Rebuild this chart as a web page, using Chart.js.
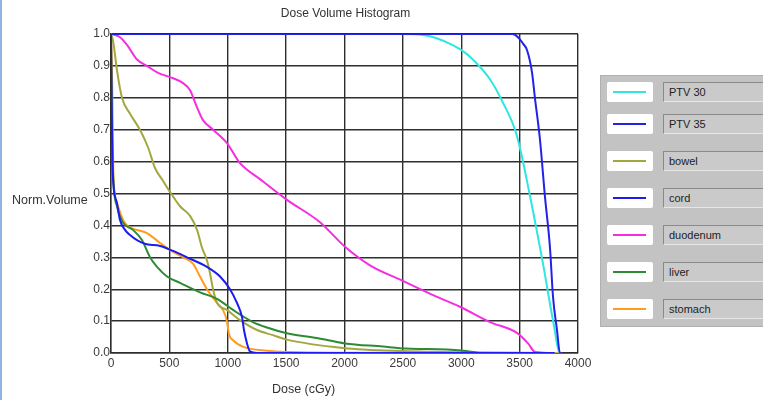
<!DOCTYPE html>
<html>
<head>
<meta charset="utf-8">
<script src="https://cdn.jsdelivr.net/npm/chart.js@4/dist/chart.umd.min.js"></script>
<style>
  html, body { margin: 0; padding: 0; background: #ffffff; }
  body { width: 763px; height: 400px; overflow: hidden; position: relative; font-family: "Liberation Sans", Arial, sans-serif; }
  #edge { position: absolute; left: 0; top: 0; width: 2px; height: 400px; background: #8fb4e0; }
  #wrap { position: absolute; left: 0; top: 0; width: 763px; height: 400px; }
  #legend { position: absolute; left: 600px; top: 75px; width: 170px; height: 252px; background: #c3c3c3; border: 1px solid #b0b0b0; box-sizing: border-box; }
  .row { position: absolute; left: 0; width: 170px; height: 20px; }
  .sw { position: absolute; left: 6px; top: 0; width: 46px; height: 20px; background: #ffffff; border-radius: 2px; }
  .sw i { position: absolute; left: 6px; top: 9px; width: 33px; height: 2px; display: block; }
  .tb { position: absolute; left: 62px; top: 0; width: 110px; height: 20px; box-sizing: border-box; background: #cacaca; border-top: 1px solid #8a8a8a; border-left: 1px solid #8a8a8a; border-bottom: 1px solid #e6e6e6; font-size: 11px; line-height: 18px; padding-left: 5px; color: #222; }
</style>
</head>
<body>
<div id="edge"></div>
<div id="wrap"><canvas id="c" width="763" height="400"></canvas></div>
<div id="legend"></div>
<script>
// ---- data (dose in cGy, normalized volume) ----
const chartTitle = "Dose Volume Histogram";
const xTitle = "Dose (cGy)";
const yTitle = "Norm.Volume";
const xTicks = [0, 500, 1000, 1500, 2000, 2500, 3000, 3500, 4000];
const yTicks = [0.0, 0.1, 0.2, 0.3, 0.4, 0.5, 0.6, 0.7, 0.8, 0.9, 1.0];

const seriesNames = ["PTV 30", "PTV 35", "bowel", "cord", "duodenum", "liver", "stomach"];
const seriesColors = ["#2fe6e0", "#2222e8", "#a3a83e", "#1c1cf0", "#f62ee0", "#2e8b34", "#ff9c1e"];

const ptv30Dose = [0, 1000, 2000, 2500, 2600, 2700, 2800, 2900, 3000, 3100, 3250, 3350, 3475, 3590, 3700, 3790, 3845, 3860];
const ptv30Vol  = [1.0, 1.0, 1.0, 1.0, 0.999, 0.995, 0.985, 0.97, 0.95, 0.92, 0.856, 0.79, 0.683, 0.49, 0.28, 0.094, 0.0, 0.0];

const ptv35Dose = [0, 1000, 2000, 3000, 3440, 3486, 3529, 3563, 3606, 3631, 3674, 3717, 3760, 3786, 3820, 3845, 3860];
const ptv35Vol  = [1.0, 1.0, 1.0, 1.0, 1.0, 0.99, 0.97, 0.95, 0.88, 0.80, 0.67, 0.49, 0.33, 0.176, 0.072, 0.0, 0.0];

const bowelDose = [0, 17, 51, 94, 163, 248, 317, 377, 445, 505, 591, 677, 737, 780, 822, 848, 874, 908, 993, 1105, 1250, 1387, 1507, 1987, 2500, 3000, 3800];
const bowelVol  = [1.0, 0.98, 0.887, 0.80, 0.75, 0.70, 0.645, 0.58, 0.54, 0.505, 0.46, 0.43, 0.386, 0.33, 0.29, 0.25, 0.20, 0.157, 0.135, 0.103, 0.072, 0.056, 0.042, 0.016, 0.006, 0.002, 0.0];

const cordDose = [0, 6, 12, 20, 51, 77, 120, 163, 223, 317, 394, 531, 651, 822, 934, 1019, 1079, 1122, 1139, 1165, 1190, 1250, 3800];
const cordVol  = [1.0, 0.75, 0.6, 0.53, 0.47, 0.417, 0.386, 0.37, 0.354, 0.34, 0.338, 0.32, 0.30, 0.27, 0.24, 0.20, 0.157, 0.113, 0.072, 0.03, 0.005, 0.0, 0.0];

const duodenumDose = [0, 77, 137, 223, 308, 403, 505, 617, 677, 737, 788, 874, 993, 1105, 1276, 1507, 1790, 2004, 2218, 2500, 2792, 2989, 3246, 3477, 3572, 3632, 3750];
const duodenumVol  = [1.0, 0.99, 0.966, 0.92, 0.90, 0.878, 0.865, 0.846, 0.824, 0.77, 0.73, 0.70, 0.658, 0.595, 0.545, 0.48, 0.41, 0.333, 0.275, 0.226, 0.176, 0.145, 0.097, 0.063, 0.03, 0.003, 0.0];

const liverDose = [0, 8, 17, 51, 100, 188, 265, 334, 394, 480, 591, 762, 908, 1045, 1216, 1336, 1507, 1764, 2004, 2330, 2475, 3000, 3150];
const liverVol  = [1.0, 0.75, 0.57, 0.46, 0.41, 0.386, 0.354, 0.30, 0.27, 0.24, 0.22, 0.19, 0.17, 0.135, 0.097, 0.08, 0.062, 0.047, 0.03, 0.02, 0.015, 0.008, 0.0];

const stomachDose = [0, 10, 20, 51, 103, 137, 188, 308, 420, 505, 617, 702, 762, 822, 908, 959, 993, 1010, 1045, 1130, 1336, 1533, 2000, 3850];
const stomachVol  = [1.0, 0.85, 0.56, 0.47, 0.417, 0.40, 0.39, 0.376, 0.345, 0.323, 0.30, 0.28, 0.24, 0.20, 0.157, 0.135, 0.10, 0.06, 0.04, 0.02, 0.007, 0.003, 0.001, 0.0];

const seriesDose = [ptv30Dose, ptv35Dose, bowelDose, cordDose, duodenumDose, liverDose, stomachDose];
const seriesVol  = [ptv30Vol, ptv35Vol, bowelVol, cordVol, duodenumVol, liverVol, stomachVol];
const drawOrder  = [2, 0, 5, 1, 3, 4, 6];

// ---- build datasets ----
const datasets = seriesNames.map((name, i) => ({
  label: name,
  data: seriesDose[i].map((d, k) => ({ x: d, y: seriesVol[i][k] })),
  borderColor: seriesColors[i],
  backgroundColor: seriesColors[i],
  borderWidth: 2,
  pointRadius: 0,
  fill: false,
  cubicInterpolationMode: 'monotone',
  order: drawOrder[i]
}));

const FONT = "'Liberation Sans', Arial, sans-serif";

const textPlugin = {
  id: 'texts',
  afterDraw(chart) {
    const ctx = chart.ctx;
    const a = chart.chartArea;
    ctx.save();
    ctx.fillStyle = '#333';
    ctx.font = '12px ' + FONT;
    ctx.textAlign = 'center';
    ctx.textBaseline = 'middle';
    ctx.fillText(chartTitle, (a.left + a.right) / 2 + 1, 14);
    ctx.font = '12.5px ' + FONT;
    ctx.fillText(xTitle, (a.left + a.right) / 2 - 41, 390);
    ctx.textAlign = 'left';
    ctx.font = '12.5px ' + FONT;
    ctx.fillText(yTitle, 12, 201);
    ctx.restore();
  }
};

new Chart(document.getElementById('c'), {
  type: 'line',
  data: { datasets },
  options: {
    responsive: false,
    animation: false,
    layout: { padding: { left: 0, right: 185, top: 34, bottom: 0 } },
    plugins: { legend: { display: false }, title: { display: false }, tooltip: { enabled: false } },
    scales: {
      x: {
        type: 'linear',
        min: 0, max: 4000,
        afterBuildTicks: s => { s.ticks = xTicks.map(v => ({ value: v })); },
        afterFit: s => { s.height = 47; },
        ticks: { font: { size: 12, family: FONT }, color: '#3a3a3a', padding: 3, maxRotation: 0, callback: v => String(v) },
        grid: { color: '#2e2e2e', lineWidth: 1.4, drawTicks: false },
        border: { color: '#2e2e2e', width: 1.4 }
      },
      y: {
        type: 'linear',
        min: 0, max: 1,
        afterBuildTicks: s => { s.ticks = yTicks.map(v => ({ value: v })); },
        afterFit: s => { s.width = 111; },
        ticks: { font: { size: 12, family: FONT }, color: '#3a3a3a', padding: 1, callback: v => Number(v).toFixed(1) },
        grid: { color: '#2e2e2e', lineWidth: 1.4, drawTicks: false },
        border: { color: '#2e2e2e', width: 1.4 }
      }
    }
  },
  plugins: [textPlugin]
});

// ---- legend panel (HTML) ----
const rowTops = [6, 38, 75, 112, 149, 186, 223];
const legend = document.getElementById('legend');
seriesNames.forEach((name, i) => {
  const row = document.createElement('div');
  row.className = 'row';
  row.style.top = rowTops[i] + 'px';
  const sw = document.createElement('div');
  sw.className = 'sw';
  const ln = document.createElement('i');
  ln.style.background = seriesColors[i];
  sw.appendChild(ln);
  const tb = document.createElement('div');
  tb.className = 'tb';
  tb.textContent = name;
  row.appendChild(sw);
  row.appendChild(tb);
  legend.appendChild(row);
});
</script>
</body>
</html>
